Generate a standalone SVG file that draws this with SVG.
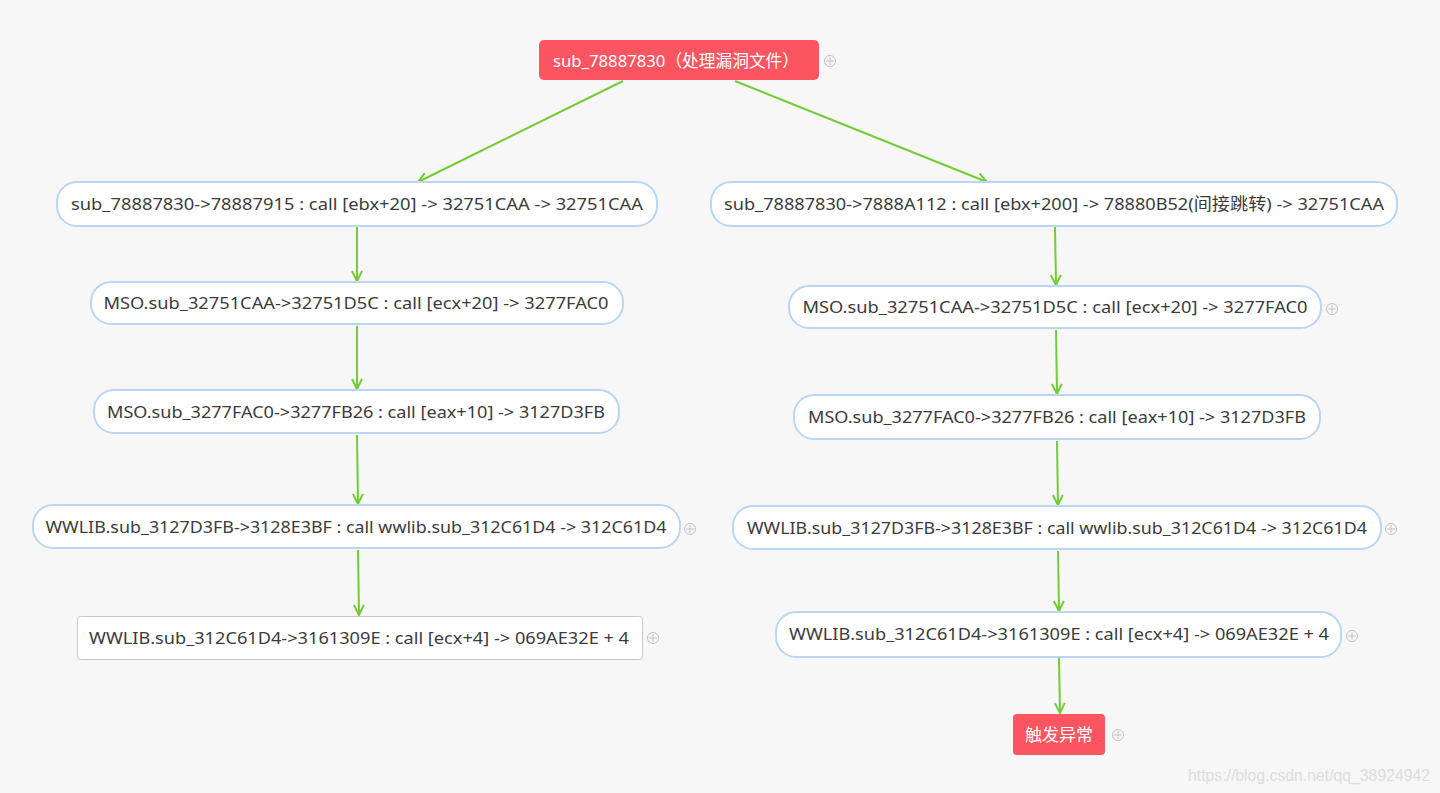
<svg xmlns="http://www.w3.org/2000/svg" width="1440" height="793" viewBox="0 0 1440 793">
<style>
text{font-family:"Noto Sans","Noto Sans CJK SC",sans-serif;font-size:17px;fill:#3b3b3b;text-anchor:middle}
.box{fill:#ffffff;stroke:#b9d6f5;stroke-width:2}
.box2{fill:#ffffff;stroke:#c8c8c8;stroke-width:1}
.red{fill:#fa5560}
text.w{fill:#ffffff}
.conn{stroke:#73cc35;stroke-width:2;fill:none;marker-end:url(#arr)}
text.wm{font-family:"Liberation Sans",sans-serif;font-size:16px;fill:#dcdcdc;text-anchor:start}
</style>
<defs>
<marker id="arr" viewBox="0 0 12 12" refX="11" refY="6" markerWidth="12" markerHeight="12" markerUnits="userSpaceOnUse" orient="auto">
<path d="M1,1 L11,6 L1,11" fill="none" stroke="#73cc35" stroke-width="2"/>
</marker>
<g id="pl" fill="none" stroke="#c2c2c2" stroke-width="1"><circle cx="0" cy="0" r="5.5"/><path d="M-4,0 H4 M0,-4 V4"/></g>
</defs>
<rect width="1440" height="793" fill="#f7f7f7"/>

<g id="connectors">
<path class="conn" d="M623,81 L418,182"/>
<path class="conn" d="M735,81 L987,182"/>
<path class="conn" d="M357,227 L357,281"/>
<path class="conn" d="M357,326 L357,389"/>
<path class="conn" d="M357,435 L358,504"/>
<path class="conn" d="M358,550 L359,615"/>
<path class="conn" d="M1055,227 L1056,285"/>
<path class="conn" d="M1056,330 L1057,394"/>
<path class="conn" d="M1057,441 L1058,505"/>
<path class="conn" d="M1058,551 L1059,611"/>
<path class="conn" d="M1059,658 L1060,713"/>
</g>

<g id="root">
<rect class="red" x="539" y="40" width="280" height="40" rx="5"/>
<text class="w" x="676" y="67" textLength="246" lengthAdjust="spacingAndGlyphs">sub_78887830（处理漏洞文件）</text>
<use href="#pl" x="830" y="61"/>
</g>

<g id="L1">
<rect class="box" x="57" y="182" width="600" height="44" rx="20"/>
<text x="357" y="210" textLength="572" lengthAdjust="spacingAndGlyphs">sub_78887830-&gt;78887915 : call [ebx+20] -&gt; 32751CAA -&gt; 32751CAA</text>
</g>
<g id="L2">
<rect class="box" x="91" y="282" width="532" height="42" rx="20"/>
<text x="356" y="309" textLength="505" lengthAdjust="spacingAndGlyphs">MSO.sub_32751CAA-&gt;32751D5C : call [ecx+20] -&gt; 3277FAC0</text>
</g>
<g id="L3">
<rect class="box" x="94" y="390" width="525" height="43" rx="20"/>
<text x="356" y="418" textLength="498" lengthAdjust="spacingAndGlyphs">MSO.sub_3277FAC0-&gt;3277FB26 : call [eax+10] -&gt; 3127D3FB</text>
</g>
<g id="L4">
<rect class="box" x="33" y="505" width="647" height="43" rx="20"/>
<text x="356" y="533" textLength="621" lengthAdjust="spacingAndGlyphs">WWLIB.sub_3127D3FB-&gt;3128E3BF : call wwlib.sub_312C61D4 -&gt; 312C61D4</text>
<use href="#pl" x="690" y="529"/>
</g>
<g id="L5">
<rect class="box2" x="77.5" y="616.5" width="565" height="43" rx="3"/>
<text x="359" y="644" textLength="540" lengthAdjust="spacingAndGlyphs">WWLIB.sub_312C61D4-&gt;3161309E : call [ecx+4] -&gt; 069AE32E + 4</text>
<use href="#pl" x="653" y="638"/>
</g>

<g id="R1">
<rect class="box" x="711" y="182" width="686" height="44" rx="20"/>
<text x="1054" y="210" textLength="660" lengthAdjust="spacingAndGlyphs">sub_78887830-&gt;7888A112 : call [ebx+200] -&gt; 78880B52(间接跳转) -&gt; 32751CAA</text>
</g>
<g id="R2">
<rect class="box" x="789" y="286" width="532" height="42" rx="20"/>
<text x="1055" y="313" textLength="505" lengthAdjust="spacingAndGlyphs">MSO.sub_32751CAA-&gt;32751D5C : call [ecx+20] -&gt; 3277FAC0</text>
<use href="#pl" x="1332" y="309"/>
</g>
<g id="R3">
<rect class="box" x="794" y="395" width="526" height="44" rx="20"/>
<text x="1057" y="423" textLength="498" lengthAdjust="spacingAndGlyphs">MSO.sub_3277FAC0-&gt;3277FB26 : call [eax+10] -&gt; 3127D3FB</text>
</g>
<g id="R4">
<rect class="box" x="733" y="506" width="648" height="43" rx="20"/>
<text x="1057" y="534" textLength="620" lengthAdjust="spacingAndGlyphs">WWLIB.sub_3127D3FB-&gt;3128E3BF : call wwlib.sub_312C61D4 -&gt; 312C61D4</text>
<use href="#pl" x="1391" y="529"/>
</g>
<g id="R5">
<rect class="box" x="776" y="612" width="565" height="45" rx="20"/>
<text x="1059" y="640" textLength="540" lengthAdjust="spacingAndGlyphs">WWLIB.sub_312C61D4-&gt;3161309E : call [ecx+4] -&gt; 069AE32E + 4</text>
<use href="#pl" x="1352" y="636"/>
</g>
<g id="R6">
<rect class="red" x="1013" y="714" width="92" height="41" rx="4"/>
<text class="w" x="1059" y="741" textLength="68" lengthAdjust="spacingAndGlyphs">触发异常</text>
<use href="#pl" x="1118" y="735"/>
</g>

<text class="wm" x="1188" y="781" textLength="242" lengthAdjust="spacingAndGlyphs">https://blog.csdn.net/qq_38924942</text>
</svg>
